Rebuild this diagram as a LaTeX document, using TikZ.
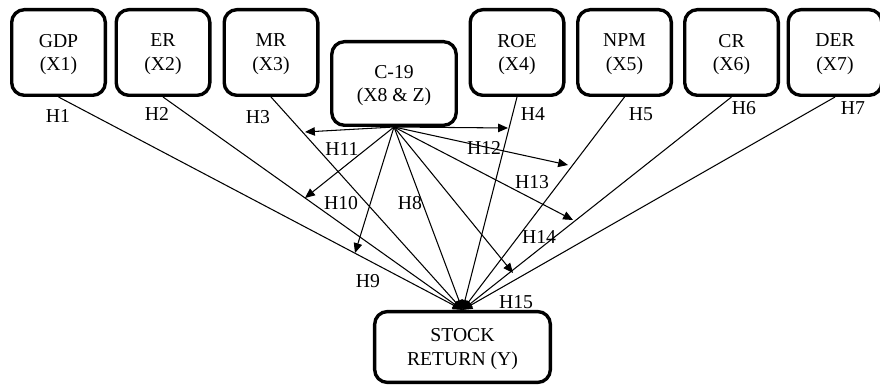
\documentclass[tikz,border=0pt]{standalone}
\usepackage{fontspec}
\setmainfont{Liberation Serif}
\usetikzlibrary{arrows.meta}

\tikzset{
  varbox/.style={draw, line width=2.4pt, rounded corners=9pt, align=center,
    inner sep=0pt, text depth=-6pt, minimum width=2.34cm, minimum height=2.14cm,
    font=\fontsize{14}{17}\selectfont},
  hyp/.style={inner sep=0pt, font=\fontsize{14}{17}\selectfont},
  link/.style={line width=0.75pt, -{Triangle[length=7pt,width=6pt]}}
}

\begin{document}
\begin{tikzpicture}[x=0.025cm, y=-0.025cm]
    \clip (0,0) rectangle (880,385);

    % Variabel bebas
    \node[varbox] (gdp) at (58.5,52.5) {GDP\\(X1)};
    \node[varbox] (er)  at (163,52.5)  {ER\\(X2)};
    \node[varbox] (mr)  at (271,52.5)  {MR\\(X3)};
    \node[varbox] (roe) at (517,52.5)  {ROE\\(X4)};
    \node[varbox] (npm) at (624.5,52.5) {NPM\\(X5)};
    \node[varbox] (cr)  at (731.5,52.5) {CR\\(X6)};
    \node[varbox] (der) at (835,52.5)  {DER\\(X7)};

    % Moderasi dan variabel terikat
    \node[varbox, minimum width=3.11cm, minimum height=2.09cm] (c19) at (394,83.5) {C-19\\(X8 \& Z)};
    \node[varbox, minimum width=4.39cm, minimum height=1.77cm] (ret) at (462.5,347) {STOCK\\RETURN (Y)};

    % Ujung panah dari C-19
    \coordinate (t9)  at (355,253);
    \coordinate (t10) at (305,198);
    \coordinate (t11) at (305,132);
    \coordinate (t12) at (508,128);
    \coordinate (t13) at (568,165);
    \coordinate (t14) at (573,220);
    \coordinate (t15) at (513,273);

    % Jalur H1 - H8
    \foreach \v in {gdp,er,mr,roe,npm,cr,der,c19}
      \draw[link] (\v.south) -- (ret.north);

    % Jalur H9 - H15
    \foreach \t in {t9,t10,t11,t12,t13,t14,t15}
      \draw[link] (c19.south) -- (\t);

    % Label hipotesis
    \foreach \n/\x/\y in {1/58/116, 2/157/114, 3/258/117, 4/533/114, 5/641/114,
        6/744/108, 7/853/108, 8/410/203, 9/368/281, 10/341/203, 11/342/149,
        12/484/148, 13/532/182, 14/539/237, 15/516/302}
      \node[hyp] (h\n) at (\x,\y) {H\n};
  \end{tikzpicture}
\end{document}
